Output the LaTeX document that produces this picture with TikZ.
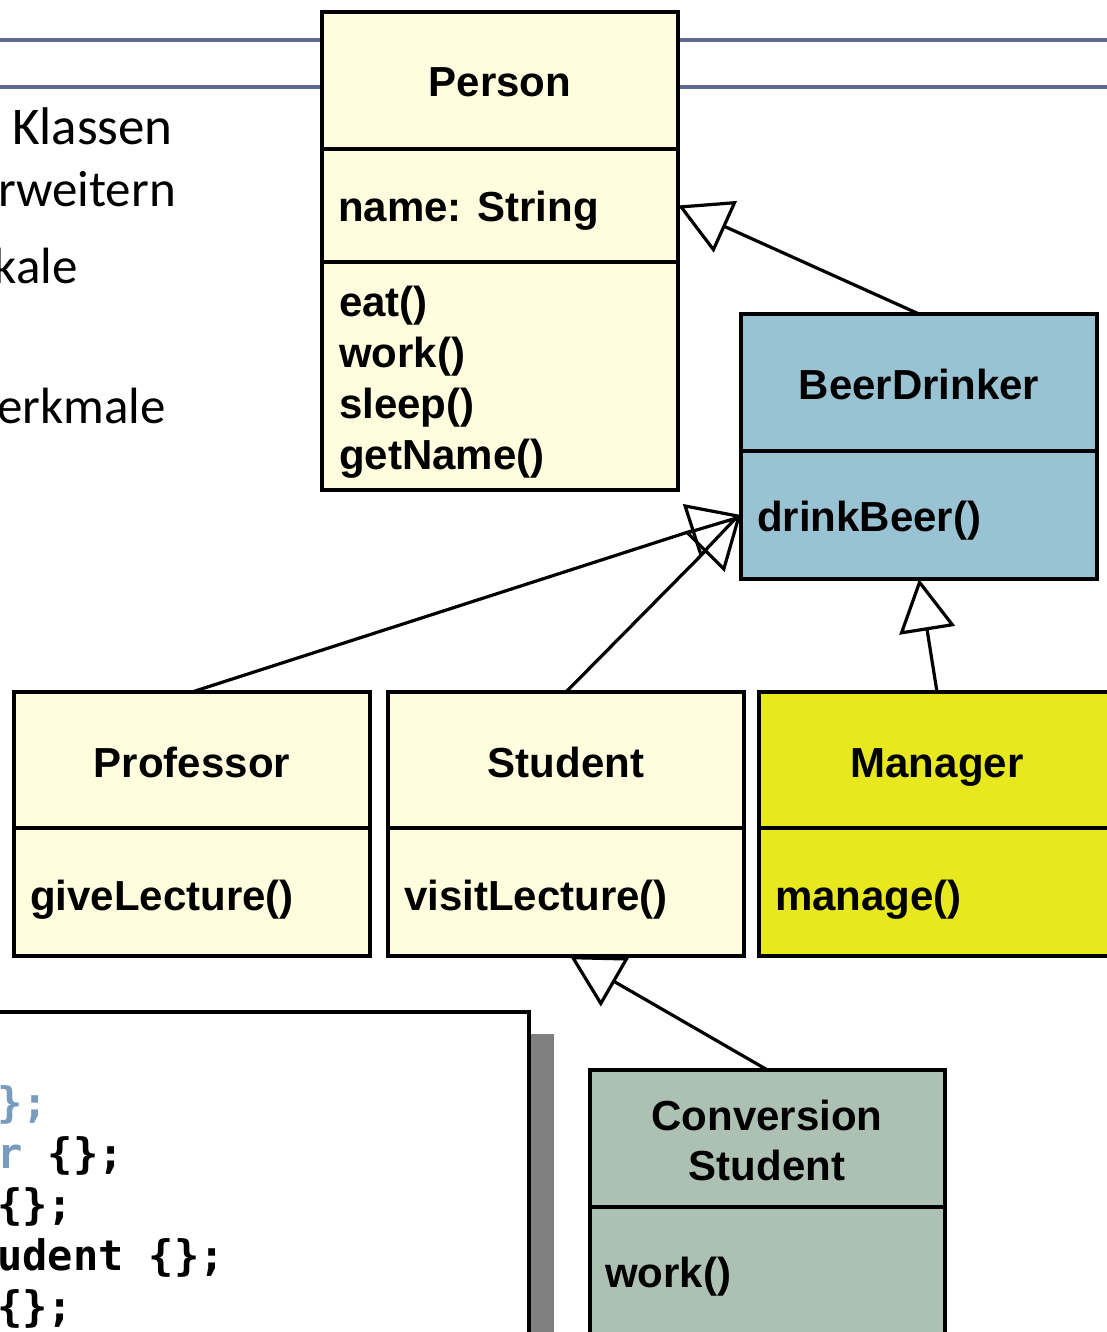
\documentclass[tikz,border=0pt]{standalone}
\usepackage{fontspec}
\setmainfont{Liberation Sans}
\newfontfamily\calibrifont{Carlito}
\newfontfamily\codefont{DejaVu Sans Mono}
\usetikzlibrary{arrows.meta}
\definecolor{clsyellow}{RGB}{255,253,222}
\definecolor{beerblue}{RGB}{153,194,211}
\definecolor{mgryellow}{RGB}{232,232,30}
\definecolor{convgreen}{RGB}{173,192,180}
\definecolor{ruleblue}{RGB}{96,104,145}
\definecolor{codeblue}{RGB}{120,155,190}
\definecolor{shadowgray}{RGB}{128,128,128}
\begin{document}
\begin{tikzpicture}[x=1pt,y=-1pt,
  box/.style={draw=black, line width=3.4pt, minimum width=356pt, inner sep=0pt, outer sep=0pt, anchor=north west},
  ttl/.style={font=\fontsize{42}{50}\selectfont\bfseries, anchor=base, inner sep=0pt},
  mth/.style={font=\fontsize{42}{50}\selectfont\bfseries, anchor=base west, inner sep=0pt},
  slide/.style={font=\calibrifont\fontsize{51}{60}\selectfont, anchor=base east, inner sep=0pt},
  code/.style={font=\codefont\bfseries\fontsize{42}{50}\selectfont, anchor=base west, inner sep=0pt},
  gen/.style={-{Triangle[open,length=52pt,width=56pt]}, line width=3.2pt, black},
  ruleline/.style={draw=ruleblue, line width=3.2pt}
]
\useasboundingbox (0,0) rectangle (1107,1332);

% slide rules
\coordinate (r1a) at (0,40);  \coordinate (r1b) at (1107,40);
\coordinate (r2a) at (0,87);  \coordinate (r2b) at (1107,87);
\draw[ruleline] (r1a) -- (r1b);
\draw[ruleline] (r2a) -- (r2b);

% slide text
\node[slide, font=\calibrifont\fontsize{53}{60}\selectfont] (t1) at (173,145) {Klassen};
\node[slide] (t2) at (176,207) {rweitern};
\node[slide] (t3) at (78,283) {kale};
\node[slide] (t4) at (166,423) {erkmale};

% code box with shadow
\node[fill=shadowgray, minimum width=560pt, minimum height=340pt, inner sep=0pt, outer sep=0pt, anchor=north east] (codeshadow) at (554,1034) {};
\node[draw=black, fill=white, line width=3.4pt, minimum width=560pt, minimum height=340pt, inner sep=0pt, outer sep=0pt, anchor=north east] (codebox) at (529,1012) {};
\node[code] (c1) at (-3,1117) {\textcolor{codeblue}{\};}};
\node[code] (c2) at (-3,1168) {\textcolor{codeblue}{r} \{\};};
\node[code] (c3) at (-3,1219) {\{\};};
\node[code] (c4) at (-3,1270) {udent \{\};};
\node[code] (c5) at (-3,1321) {\{\};};

% Person
\node[box, fill=clsyellow, minimum height=137pt] (personT) at (322,12) {};
\node[box, fill=clsyellow, minimum height=113pt] (personA) at (322,149) {};
\node[box, fill=clsyellow, minimum height=228pt] (personM) at (322,262) {};
\node[ttl] (personL) at (500,97) {Person};
\node[mth] (personA1) at (338,222) {name: String};
\node[mth] (personM1) at (339,316) {eat()};
\node[mth] (personM2) at (339,367) {work()};
\node[mth] (personM3) at (339,418) {sleep()};
\node[mth] (personM4) at (339,469) {getName()};

% BeerDrinker
\node[box, fill=beerblue, minimum height=137pt] (beerT) at (741,314) {};
\node[box, fill=beerblue, minimum height=128pt] (beerM) at (741,451) {};
\node[ttl] (beerL) at (919,399) {BeerDrinker};
\node[mth] (beerM1) at (757,531) {drinkBeer()};

% Professor
\node[box, fill=clsyellow, minimum height=136pt] (profT) at (14,692) {};
\node[box, fill=clsyellow, minimum height=128pt] (profM) at (14,828) {};
\node[ttl] (profL) at (192,777) {Professor};
\node[mth] (profM1) at (30,910) {giveLecture()};

% Student
\node[box, fill=clsyellow, minimum height=136pt] (studT) at (388,692) {};
\node[box, fill=clsyellow, minimum height=128pt] (studM) at (388,828) {};
\node[ttl] (studL) at (566,777) {Student};
\node[mth] (studM1) at (404,910) {visitLecture()};

% Manager
\node[box, fill=mgryellow, minimum height=136pt] (manT) at (759,692) {};
\node[box, fill=mgryellow, minimum height=128pt] (manM) at (759,828) {};
\node[ttl] (manL) at (937,777) {Manager};
\node[mth] (manM1) at (775,910) {manage()};

% Conversion Student
\node[box, fill=convgreen, minimum width=355pt, minimum height=137pt] (convT) at (590,1070) {};
\node[box, fill=convgreen, minimum width=355pt, minimum height=140pt] (convM) at (590,1207) {};
\node[ttl] (convL1) at (767,1130) {Conversion};
\node[ttl] (convL2) at (767,1180) {Student};
\node[mth] (convM1) at (605,1287) {work()};

% generalisations
\draw[gen] (beerT.north) -- (personA.east);
\draw[gen] (profT.north) -- (beerM.west);
\draw[gen] (studT.north) -- (beerM.west);
\draw[gen] (manT.north) -- (beerM.south);
\draw[gen] (convT.north) -- ([xshift=4pt]studM.south);
\end{tikzpicture}
\end{document}
